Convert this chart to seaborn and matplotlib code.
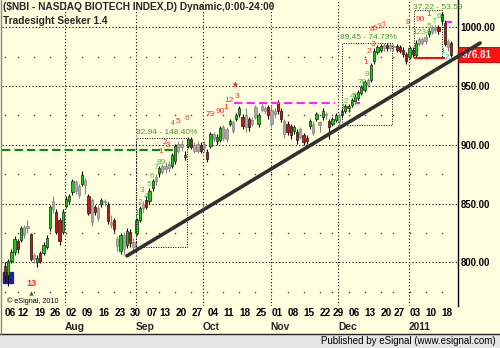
import numpy as np
import pandas as pd
import matplotlib
matplotlib.use("Agg")
import matplotlib.pyplot as plt
import matplotlib.transforms as mtransforms
from matplotlib.patches import Rectangle
from matplotlib.lines import Line2D
import seaborn as sns

# ---------------- data ----------------
holidays = ["2010-09-06", "2010-11-25", "2010-12-24", "2011-01-17"]
dates = pd.bdate_range("2010-07-06", "2011-01-21")
dates = dates[~dates.isin(pd.to_datetime(holidays))]

opens = [797, 789, 801, 809, 818, 819, 823, 829, 824, 806,
         800, 808, 808, 813, 829, 845, 843, 836, 826, 848,
         852, 860, 861, 865, 867, 870, 856, 853, 847, 846,
         850, 851, 849, 834, 836, 814, 810, 823, 815, 826,
         817, 825, 836, 846, 853, 852, 863, 869, 876, 877,
         879, 880, 882, 886, 895, 898, 891, 899, 905, 900,
         895, 900, 897, 894, 899, 905, 903, 904, 906, 913,
         918, 912, 922, 926, 924, 925, 922, 918, 924, 918,
         930, 929, 932, 930, 926, 936, 929, 920, 918, 916,
         912, 911, 913, 908, 906, 916, 910, 922, 919, 924,
         925, 920, 918, 921, 919, 925, 929, 933, 934, 937,
         940, 944, 947, 951, 955, 971, 979, 981, 982, 985,
         982, 983, 984, 983, 981, 977, 975, 981, 976, 986,
         987, 988, 994, 996, 998, 1000, 1005, 1004, 988, 987]
highs = [800, 803, 811, 822, 820, 831, 832, 836, 825, 808,
         806, 810, 817, 823, 849, 856, 845, 838, 845, 856,
         858, 871, 870, 867, 878, 872, 858, 855, 849, 849,
         855, 854, 851, 840, 838, 822, 825, 826, 829, 828,
         821, 838, 848, 852, 856, 863, 871, 875, 882, 884,
         885, 886, 893, 901, 903, 904, 895, 907, 907, 902,
         903, 902, 903, 896, 911, 911, 909, 916, 917, 915,
         922, 921, 927, 933, 926, 931, 924, 924, 934, 927,
         935, 933, 934, 933, 931, 938, 931, 922, 920, 918,
         917, 913, 915, 910, 908, 922, 920, 928, 920, 931,
         928, 922, 924, 927, 927, 931, 935, 935, 940, 943,
         947, 951, 955, 957, 970, 982, 985, 986, 987, 987,
         987, 986, 986, 985, 983, 979, 984, 983, 989, 992,
         992, 994, 999, 1002, 1002, 1002, 1013, 1006, 990, 988]
lows = [783, 780, 799, 806, 808, 817, 821, 825, 801, 799,
        796, 799, 806, 811, 827, 842, 824, 815, 824, 846,
        850, 857, 858, 855, 865, 858, 840, 831, 840, 835,
        847, 848, 833, 829, 826, 810, 807, 806, 812, 813,
        810, 823, 834, 843, 845, 850, 861, 866, 873, 875,
        876, 877, 880, 884, 893, 895, 887, 897, 896, 893,
        893, 893, 894, 885, 897, 903, 900, 902, 903, 902,
        916, 910, 920, 924, 913, 911, 912, 916, 922, 915,
        928, 926, 922, 915, 923, 926, 919, 906, 908, 905,
        909, 901, 905, 900, 901, 913, 908, 920, 911, 921,
        922, 905, 916, 919, 917, 923, 927, 928, 932, 935,
        938, 942, 945, 949, 953, 969, 977, 979, 980, 980,
        980, 980, 979, 978, 975, 969, 973, 975, 974, 984,
        985, 986, 992, 994, 995, 994, 1003, 984, 980, 975]
closes = [788, 801, 809, 820, 811, 829, 830, 831, 803, 803,
          804, 801, 815, 821, 847, 852, 826, 818, 843, 854,
          856, 869, 868, 857, 874, 866, 842, 834, 843, 838,
          853, 852, 835, 832, 828, 820, 823, 811, 827, 816,
          813, 836, 846, 850, 847, 861, 869, 873, 880, 882,
          882, 884, 891, 899, 901, 901, 890, 905, 898, 895,
          901, 895, 901, 888, 909, 909, 907, 914, 915, 905,
          920, 919, 925, 931, 916, 915, 915, 921, 932, 925,
          933, 931, 925, 918, 929, 929, 922, 909, 911, 908,
          915, 904, 907, 902, 903, 920, 918, 926, 917, 929,
          926, 915, 922, 925, 925, 929, 933, 931, 938, 941,
          945, 949, 953, 955, 968, 980, 983, 984, 985, 982,
          985, 984, 981, 980, 977, 971, 982, 977, 987, 990,
          990, 992, 997, 1000, 1000, 997, 1011, 986, 983, 976.81]
# g = up bar, r = down bar, n = neutral (grey) bar
bar_state = ("rgggrgnnrn" "grgggnrrgg" "ggnngnrnrn" "gnrnrngngr" "nggnrggngn"
             "nnggnnggrn" "nrnrgnggnn" "gnggrnrnng" "nnrnnrrnrr" "grnrrgngng"
             "nrggnggrgg" "gggnggggnr" "nnrrrrgrgn" "nngnnrgrnr")

tick_dates = ["2010-07-06", "2010-07-12", "2010-07-19", "2010-07-26", "2010-08-02",
              "2010-08-09", "2010-08-16", "2010-08-23", "2010-08-30", "2010-09-07",
              "2010-09-13", "2010-09-20", "2010-09-27", "2010-10-04", "2010-10-11",
              "2010-10-18", "2010-10-25", "2010-11-01", "2010-11-08", "2010-11-15",
              "2010-11-22", "2010-11-29", "2010-12-06", "2010-12-13", "2010-12-20",
              "2010-12-27", "2011-01-03", "2011-01-10", "2011-01-18"]
tick_labels = ["06", "12", "19", "26", "02", "09", "16", "23", "30", "07", "13", "20",
               "27", "04", "11", "18", "25", "01", "08", "15", "22", "29", "06", "13",
               "20", "27", "03", "10", "18"]
month_starts = ["2010-08-02", "2010-09-01", "2010-10-01", "2010-11-01", "2010-12-01", "2011-01-03"]
month_labels = ["Aug", "Sep", "Oct", "Nov", "Dec", "2011"]
price_ticks = [800, 850, 900, 950, 1000]
minor_levels = [775, 825, 875, 925, 975]
last_price = 976.81

# trend line anchors (day index, price)
trend_i = [38, 148]
trend_p = [805.5, 986.6]

# ---------------- style ----------------
BG = "#FFFFE0"
sns.set_theme(style="white", rc={"axes.facecolor": BG, "figure.facecolor": BG})
plt.rcParams["font.family"] = ["Liberation Sans", "DejaVu Sans"]

df = pd.DataFrame({"date": dates, "open": opens, "high": highs, "low": lows,
                   "close": closes, "state": list(bar_state)})
df["i"] = np.arange(len(df))
pos = {d: i for i, d in enumerate(df["date"])}
tick_pos = [pos[pd.Timestamp(d)] for d in tick_dates]
month_pos = [pos[pd.Timestamp(d)] for d in month_starts]

fig = plt.figure(figsize=(5, 3.48), dpi=100)
ax = fig.add_axes([2 / 500, 1 - 306 / 348, 456 / 500, 306 / 348])
ax.set_xlim(-0.93, 141.1)
ax.set_ylim(762.8, 1023.2)

# grid
for p in price_ticks:
    ax.axhline(p, color="black", lw=0.8, ls=(0, (1, 2)), zorder=1)
for m in month_pos:
    ax.axvline(m - 0.25, color="black", lw=0.8, ls=(0, (1, 2)), zorder=1)
gx, gy = np.meshgrid(tick_pos, minor_levels)
ax.scatter(gx.ravel(), gy.ravel(), s=1.2, color="#444444", lw=0, zorder=1)

# marker box at the start
ax.add_patch(Rectangle((-0.6, 782.4), 3.1, 9.4, color="#22228f", zorder=2))

# candles
fill = {"g": "#12cc12", "r": "#c41616", "n": "#a8a8a8"}
edge = {"g": "#0b2a0b", "r": "#2a0b0b", "n": "#858585"}
wick = {"g": "black", "r": "black", "n": "#858585"}
ax.vlines(df["i"], df["low"], df["high"], colors=[wick[s] for s in df["state"]],
          lw=0.8, zorder=3)
body_lo = df[["open", "close"]].min(axis=1)
body_h = (df["open"] - df["close"]).abs().clip(lower=0.8)
ax.bar(df["i"], body_h, bottom=body_lo, width=0.7,
       color=[fill[s] for s in df["state"]],
       edgecolor=[edge[s] for s in df["state"]], lw=0.5, zorder=4)

# reference lines
ax.hlines(895.6, -1, 53.5, color="#0a8a0a", lw=1.5, ls=(0, (4, 2)), zorder=5)
ax.hlines(935.4, 71.3, 102.8, color="#ff22ff", lw=1.5, ls=(0, (4, 2)), zorder=5)
ax.hlines(935.4, 109.0, 110.6, color="#ff22ff", lw=1.5, zorder=5)
ax.hlines(1004.5, 137.4, 139.3, color="#ff22ff", lw=1.5, zorder=5)

# dotted measurement boxes
dot = dict(color="black", lw=0.7, ls=(0, (1, 1.5)), zorder=5)
for (x0, x1, y0, y1) in [(40.9, 56.7, 813.2, 905.8), (105.0, 120.6, 916.9, 986.6)]:
    ax.plot([x0, x1, x1, x0, x0], [y0, y0, y1, y1, y0], **dot)
ax.plot([127.4, 127.4, 136.1, 136.1], [973.6, 1014.7, 1014.7, 973.6], **dot)
ax.hlines(973.6, 127.4, 137.1, color="#ee1111", lw=1.5, zorder=5)

GL = "#3f9a2a"
ax.text(40.8, 910.8, "92.94 - 148.40%", color=GL, fontsize=6.0, va="center", ha="left", zorder=7)
ax.text(104.4, 991.7, "89.45 - 74.73%", color=GL, fontsize=6.0, va="center", ha="left", zorder=7)
ax.text(127.1, 1016.8, "37.22 - 53.59", color=GL, fontsize=6.0, va="center", ha="left", zorder=7)

# trend line (seaborn)
tdf = pd.DataFrame({"i": trend_i, "p": trend_p})
sns.lineplot(data=tdf, x="i", y="p", ax=ax, color="#303030", lw=2.6, clip_on=False,
             zorder=8, legend=False)

# setup counts
G, R, C = "#36c236", "#ff2a2a", "#2bb3d0"
counts = [
    ("1", 41.1, 841.1, G), ("2", 42.1, 850.5, G), ("3", 42.7, 861.5, G), ("4", 43.9, 856.4, G),
    ("5", 44.9, 866.6, G), ("6", 45.8, 872.6, G), ("7", 47.0, 880.3, G), ("89", 48.6, 885.0, G),
    ("1", 48.5, 894.7, R), ("2", 49.8, 901.8, R), ("3", 50.9, 899.0, R),
    ("5", 54.0, 920.0, R), ("6", 56.8, 922.0, R),
    ("73", 63.9, 926.0, R), ("90", 67.1, 928.2, R), ("1", 68.9, 932.0, R),
    ("12", 69.8, 938.0, R), ("3", 72.2, 941.2, R),
    ("1", 105.3, 931.3, G), ("2", 106.2, 936.6, G), ("3", 107.3, 929.4, G),
    ("45", 108.8, 940.7, G), ("78", 111.4, 953.4, G), ("9", 112.8, 960.2, G),
    ("1", 112.5, 969.6, R), ("2", 113.4, 979.0, R), ("3", 114.6, 985.0, R),
    ("8", 125.5, 1003.7, R), ("90", 129.3, 1006.6, R), ("1", 132.1, 1010.6, R),
    ("5", 132.2, 1000.6, G), ("7", 133.7, 1004.6, G), ("6", 135.1, 1009.0, G),
    ("1", 136.4, 979.0, C), ("2", 137.7, 973.9, C),
]
for t, xi, yp, c in counts:
    ax.text(xi, yp, t, color=c, fontsize=6.0, ha="center", va="center", zorder=7)
ax.text(126.9, 995.6, "1234", color=G, fontsize=6.0, ha="left", va="center", zorder=7)
ax.text(52.4, 918.0, "4", color=R, fontsize=5.0, ha="center", va="center", zorder=7)
ax.text(116.5, 1000.3, "4537", color=R, fontsize=6.0, ha="center", va="center",
        rotation=22, zorder=7)
ax.text(8.1, 781.6, "13", color=R, fontsize=6.5, fontweight="bold", ha="center", va="center", zorder=7)
sns.scatterplot(x=[71.7], y=[951.7], ax=ax, color="#ff2020", marker="*", s=22, lw=0, zorder=7)
sns.scatterplot(x=[8.1], y=[774.0], ax=ax, color="#118811", marker="^", s=10, lw=0, zorder=7)
ax.text(0.6, 767.2, "\u00a9 eSignal, 2010", color="black", fontsize=5.2, ha="left", va="center", zorder=7)

# axes cosmetics
for s in ["top", "bottom", "left"]:
    ax.spines[s].set_visible(False)
ax.spines["right"].set_color("black")
ax.spines["right"].set_linewidth(1.0)
ax.set_xlabel("")
ax.set_ylabel("")
ax.yaxis.tick_right()
ax.set_yticks(price_ticks)
ax.set_yticklabels([f"{p:.2f}" for p in price_ticks])
ax.set_xticks(tick_pos)
ax.set_xticklabels(tick_labels)
ax.tick_params(axis="y", length=0, pad=2, labelsize=6.9, labelcolor="black")
ax.tick_params(axis="x", length=0, pad=1.6, labelsize=7.2, labelcolor="black")
for lab in ax.get_yticklabels() + ax.get_xticklabels():
    lab.set_fontweight("bold")
for lab in ax.get_xticklabels():
    lab.set_ha("left")

trans = mtransforms.blended_transform_factory(ax.transData, ax.transAxes)
for m, lab in zip(month_pos, month_labels):
    ax.text(m - 0.3, -0.069, lab, transform=trans, fontsize=7.4, fontweight="bold",
            ha="left", va="center")

# last price tag
ptrans = mtransforms.blended_transform_factory(ax.transAxes, ax.transData)
ax.add_patch(Rectangle((1.0, last_price - 6.6), 0.095, 12.8, transform=ptrans,
                       facecolor="#ff1010", edgecolor="#aa0000", lw=0.6, clip_on=False, zorder=6))
ax.text(1.008, last_price, f"{last_price:.2f}", transform=ptrans, color="white",
        fontsize=7.0, fontweight="bold", ha="left", va="center", zorder=7, clip_on=False)

# titles
fig.text(3 / 500, 1 - 7.5 / 348, "($NBI - NASDAQ BIOTECH INDEX,D) Dynamic,0:00-24:00",
         fontsize=7.3, fontweight="bold", ha="left", va="center")
fig.text(3 / 500, 1 - 21 / 348, "Tradesight Seeker 1.4", fontsize=7.3, fontweight="bold",
         ha="left", va="center")

# bottom band
fig.patches.append(Rectangle((0, 0), 1, 14 / 348, transform=fig.transFigure,
                             facecolor="#e6e6e6", edgecolor="none", zorder=0))
fig.lines.append(Line2D([0, 1], [14 / 348, 14 / 348], transform=fig.transFigure,
                        color="#222222", lw=1.0))
fig.lines.append(Line2D([1 / 500, 1 / 500], [14 / 348, 1], transform=fig.transFigure,
                        color="#888888", lw=1.0))
fig.text(496 / 500, 7 / 348, "Published by eSignal (www.esignal.com)", fontsize=7,
         ha="right", va="center", color="black")

fig.savefig("out.png", dpi=100)
